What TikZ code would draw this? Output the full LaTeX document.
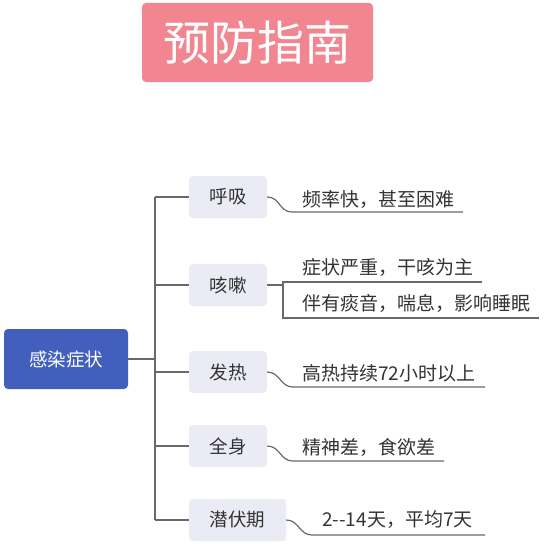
\documentclass[tikz,border=0pt]{standalone}
\usepackage{fontspec}
\setmainfont{Noto Sans CJK SC}
\usetikzlibrary{positioning}
\definecolor{titlepink}{RGB}{242,134,144}
\definecolor{rootblue}{RGB}{66,95,190}
\definecolor{branchgray}{RGB}{234,235,244}
\definecolor{linegray}{RGB}{105,105,105}
\definecolor{textdark}{RGB}{51,51,51}
\tikzset{
  titlebox/.style={rectangle, fill=titlepink, text=white, rounded corners=4pt, minimum width=231pt, minimum height=79pt, inner sep=0pt, font=\fontsize{47}{50}\selectfont},
  rootbox/.style={rectangle, fill=rootblue, text=white, rounded corners=4pt, minimum width=124pt, minimum height=60pt, inner sep=0pt, font=\fontsize{18.5}{22}\selectfont},
  branchbox/.style={rectangle, fill=branchgray, text=textdark, rounded corners=4pt, minimum width=78pt, minimum height=42pt, inner sep=0pt, font=\fontsize{18.5}{22}\selectfont},
  leaftext/.style={anchor=west, inner sep=0pt, text=textdark, font=\fontsize{19}{22}\selectfont},
  link/.style={draw=linegray, line width=1.2pt}
}

\begin{document}
\begin{tikzpicture}[x=1pt, y=-1pt]
  \useasboundingbox (0,0) rectangle (545,543);
  % Title
  \node[titlebox] (title) at (257.5,42.5) {预防指南};

  % Root and branches
  \node[rootbox] (root) at (66,359) {感染症状};
  \node[branchbox] (huxi) at (228,197) {呼吸};
  \node[branchbox] (kesou) at (228,285) {咳嗽};
  \node[branchbox] (fare) at (228,372) {发热};
  \node[branchbox] (quanshen) at (228,446) {全身};
  \node[branchbox, minimum width=97pt] (qianfu) at (237.5,520) {潜伏期};

  % Trunk
  \coordinate (trunk) at (155,359);
  \draw[link] (root.east) -- (trunk);
  \draw[link] (huxi.west -| trunk) -- (qianfu.west -| trunk);
  \foreach \b in {huxi, kesou, fare, quanshen, qianfu}
    \draw[link] (\b.west -| trunk) -- (\b.west);

  % Leaves
  \node[leaftext] (huxiL) at (302,199) {频率快，甚至困难};
  \node[leaftext] (kesouL1) at (302,267) {症状严重，干咳为主};
  \node[leaftext] (kesouL2) at (302,303) {伴有痰音，喘息，影响睡眠};
  \node[leaftext] (fareL) at (302,373) {高热持续72小时以上};
  \node[leaftext] (quanshenL) at (302,447) {精神差，食欲差};
  \node[leaftext] (qianfuL) at (322,520) {2-\kern0pt-14天，平均7天};

  \coordinate (huxiA) at (292,212);     \coordinate (huxiB) at (463,212);
  \coordinate (fareA) at (293,387);     \coordinate (fareB) at (485,387);
  \coordinate (quanshenA) at (293,461); \coordinate (quanshenB) at (444,461);
  \coordinate (qianfuA) at (312,535);   \coordinate (qianfuB) at (485,535);
  \coordinate (kesouJ) at (283,285);
  \coordinate (kesouA) at (482,282);    \coordinate (kesouB) at (539,318);

  \draw[link] (huxi.east) .. controls +(13,0) and +(-13,0) .. (huxiA) -- (huxiB);
  \draw[link] (fare.east) .. controls +(13,0) and +(-13,0) .. (fareA) -- (fareB);
  \draw[link] (quanshen.east) .. controls +(13,0) and +(-13,0) .. (quanshenA) -- (quanshenB);
  \draw[link] (qianfu.east) .. controls +(13,0) and +(-13,0) .. (qianfuA) -- (qianfuB);
  \draw[link] (kesou.east) -- (kesouJ);
  \draw[link] (kesouA) -| (kesouJ |- kesouB) -- (kesouB);
\end{tikzpicture}
\end{document}
